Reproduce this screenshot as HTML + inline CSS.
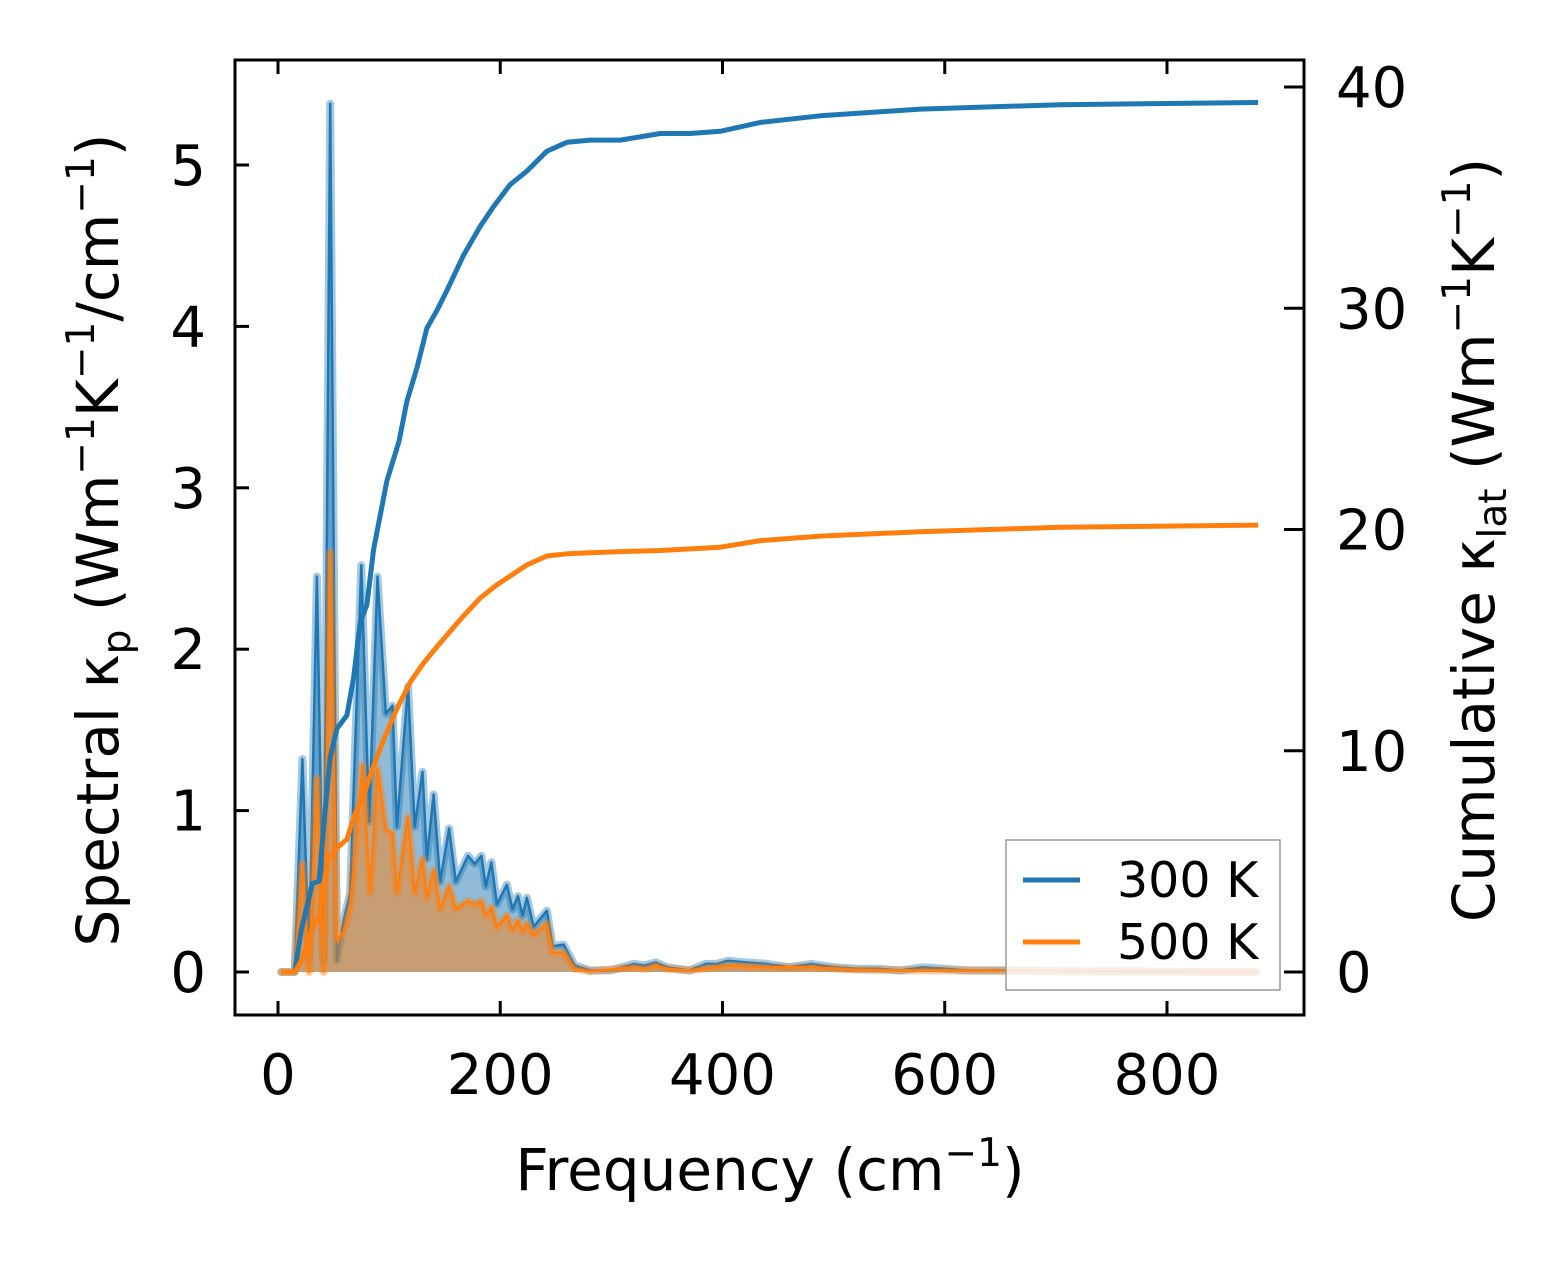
<!DOCTYPE html>
<html><head><meta charset="utf-8"><style>
body{margin:0;background:#fff}
svg text{font-family:"DejaVu Sans","Liberation Sans",sans-serif;fill:#000}
</style></head><body>
<svg id="chart" width="1568" height="1264" xmlns="http://www.w3.org/2000/svg">
<rect width="1568" height="1264" fill="#fff"/>
<g id="plot"></g>
</svg>
<script>
const specFreq300 = [3,15,22,28,35,41,47,53,59,65,75,82,89.5,97,103,107,117,123,130,134,140,146,154,160,171,177,183,187,192,197,206,211,216,220,224,230,242,247,257,267,281,300,320,330,340,350,370,385,395,405,420,440,460,480,500,520,540,560,580,600,620,660,700,880];
const specVal300 = [0,0,1.32,0.07,2.45,0.07,5.38,0.07,0.32,0.49,2.52,0.93,2.45,1.6,1.65,0.9,1.77,0.9,1.24,0.7,1.1,0.56,0.89,0.56,0.72,0.67,0.72,0.53,0.68,0.42,0.54,0.39,0.47,0.35,0.46,0.28,0.38,0.16,0.17,0.04,0.01,0.01,0.05,0.04,0.06,0.03,0.01,0.05,0.05,0.07,0.06,0.05,0.03,0.05,0.03,0.02,0.02,0.01,0.03,0.02,0.01,0.01,0.005,0];
const specFreq500 = [3,15,22,28,35,41,47,53,59,65,76,83,89.5,97,103,107,117,123,130,134,140,146,154,160,171,177,183,187,192,197,206,211,216,220,224,230,242,247,257,267,281,320,330,340,350,370,405,440,480,520,560,600,700,880];
const specVal500 = [0,0,0.67,0,1.2,0,2.6,0.2,0.25,0.4,1.28,0.49,1.26,0.88,0.86,0.49,0.96,0.49,0.7,0.46,0.63,0.39,0.53,0.39,0.44,0.42,0.44,0.35,0.4,0.28,0.35,0.26,0.32,0.25,0.3,0.23,0.3,0.12,0.12,0.02,0.005,0.03,0.02,0.04,0.02,0.01,0.04,0.03,0.03,0.015,0.01,0.01,0.005,0];
const cumFreq300 = [3,15,21,31,37,42,47,53,62,68,74,80,86,98,109,116,125,134,143,152,167,182,194,209,224,242,260,281,308,344,371,398,434,488,578,704,882];
const cumVal300 = [0,0,1.9,4.0,4.1,7.1,9.7,11.0,11.6,13.3,15.8,16.6,19.1,22.2,24.0,25.8,27.3,29.1,29.9,30.8,32.4,33.7,34.6,35.6,36.2,37.1,37.5,37.6,37.6,37.9,37.9,38.0,38.4,38.7,39.0,39.2,39.3];
const cumFreq500 = [3,15,21,31,37,45,53,62,69,77,86,95,107,119,130,143,155,167,182,197,209,224,242,260,281,308,344,398,434,488,578,704,882];
const cumVal500 = [0,0,0.5,2.0,2.5,5.1,5.6,6.0,7.1,8.0,9.3,10.5,11.9,13.1,13.9,14.7,15.4,16.1,16.9,17.5,17.9,18.4,18.8,18.9,18.95,19.0,19.05,19.2,19.5,19.7,19.9,20.1,20.2];
const xTicks = [0,200,400,600,800];
const yTicksLeft = [0,1,2,3,4,5];
const yTicksRight = [0,10,20,30,40];

const NS="http://www.w3.org/2000/svg";
const L=235,R=1304,T=60,B=1015;
const X=f=>278+f*(1167-278)/800;
const YL=v=>972-v*(972-165)/5;
const YR=v=>972-v*(972-87)/40;
const g=document.getElementById('plot');
function el(tag,attrs,parent){const e=document.createElementNS(NS,tag);for(const k in attrs)e.setAttribute(k,attrs[k]);(parent||g).appendChild(e);return e;}
function pts(fs,vs,ys){return fs.map((f,i)=>X(f).toFixed(1)+','+ys(vs[i]).toFixed(1)).join(' ');}

function spectral(fs,vs,color,name){
  const area=el('polygon',{points:pts(fs,vs,YL)+' '+X(fs[fs.length-1])+','+YL(0)+' '+X(fs[0])+','+YL(0),fill:color,'fill-opacity':0.5});
  
  
  const halo=el('polyline',{points:pts(fs,vs,YL),fill:'none',stroke:color,'stroke-opacity':0.4,'stroke-width':8,'stroke-linejoin':'round','stroke-linecap':'round'});
  
  
  const line=el('polyline',{points:pts(fs,vs,YL),fill:'none',stroke:color,'stroke-width':2.5,'stroke-linejoin':'round'});
  
  
}
spectral(specFreq300,specVal300,'#1f77b4','300k');
spectral(specFreq500,specVal500,'#ff7f0e','500k');
const c3=el('polyline',{points:pts(cumFreq300,cumVal300,YR),fill:'none',stroke:'#1f77b4','stroke-width':5,'stroke-linejoin':'round'});


const c5=el('polyline',{points:pts(cumFreq500,cumVal500,YR),fill:'none',stroke:'#ff7f0e','stroke-width':5,'stroke-linejoin':'round'});



const lg=el('g',{});


el('rect',{x:1006,y:840,width:274,height:150,fill:'#fff','fill-opacity':0.8,stroke:'#999','stroke-width':1.5},lg);
[['300 K','#1f77b4',880],['500 K','#ff7f0e',942]].forEach(([t,c,y])=>{
  const en=el('g',{},lg);
  
  
  el('line',{x1:1023,x2:1080,y1:y,y2:y,stroke:c,'stroke-width':5},en);
  const tx=el('text',{x:1117,y:y+17,'font-size':49},en);tx.textContent=t;
});

const fr=el('rect',{x:L,y:T,width:R-L,height:B-T,fill:'none',stroke:'#000','stroke-width':3});


xTicks.forEach(v=>{
  const x=X(v);
  el('line',{x1:x,x2:x,y1:B,y2:B-14,stroke:'#000','stroke-width':3});
  el('line',{x1:x,x2:x,y1:T,y2:T+14,stroke:'#000','stroke-width':3});
  const t=el('text',{x:x,y:1094,'font-size':56,'text-anchor':'middle'});
  
  
  t.textContent=v;
});
yTicksLeft.forEach(v=>{
  const y=YL(v);
  el('line',{x1:L,x2:L+14,y1:y,y2:y,stroke:'#000','stroke-width':3});
  const t=el('text',{x:206,y:y+20,'font-size':56,'text-anchor':'end'});
  
  
  t.textContent=v;
});
yTicksRight.forEach(v=>{
  const y=YR(v);
  el('line',{x1:R,x2:R-20,y1:y,y2:y,stroke:'#000','stroke-width':3});
  const t=el('text',{x:1336,y:y+20,'font-size':56});
  
  
  t.textContent=v;
});
</script>
<svg style="position:absolute;left:0;top:0" width="1568" height="1264" xmlns="http://www.w3.org/2000/svg">
<text x="770" y="1190" font-size="58" text-anchor="middle">Frequency (cm<tspan font-size="39" dy="-24">−1</tspan><tspan dy="24">)</tspan></text>
<text transform="translate(118,540) rotate(-90)" font-size="58" text-anchor="middle">Spectral κ<tspan font-size="39" dy="12">p</tspan><tspan dy="-12"> (Wm</tspan><tspan font-size="39" dy="-24">−1</tspan><tspan dy="24">K</tspan><tspan font-size="39" dy="-24">−1</tspan><tspan dy="24">/cm</tspan><tspan font-size="39" dy="-24">−1</tspan><tspan dy="24">)</tspan></text>
<text transform="translate(1494,540) rotate(-90)" font-size="58" text-anchor="middle">Cumulative κ<tspan font-size="39" dy="12">lat</tspan><tspan dy="-12"> (Wm</tspan><tspan font-size="39" dy="-24">−1</tspan><tspan dy="24">K</tspan><tspan font-size="39" dy="-24">−1</tspan><tspan dy="24">)</tspan></text>
</svg>
</body></html>
